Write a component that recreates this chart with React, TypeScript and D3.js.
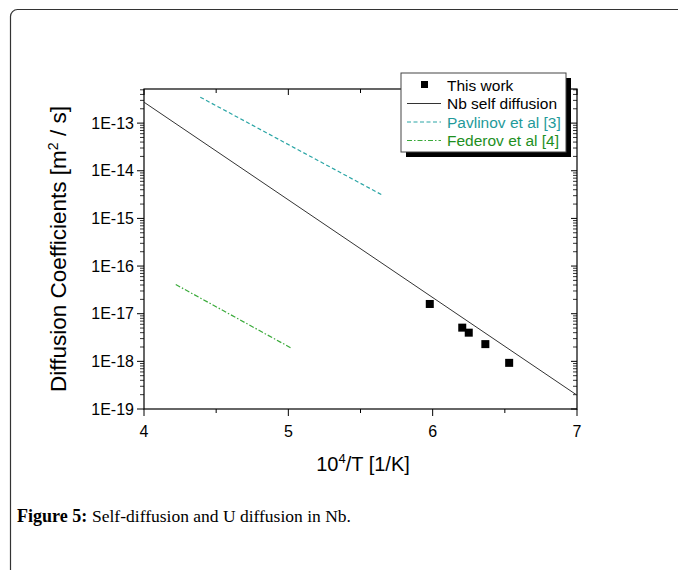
import React from 'react';
import * as d3 from 'd3';

// Nb self diffusion, end points of the Arrhenius line
const nbX = [4, 7];
const nbY = [2.75e-13, 1.95e-19];

// Pavlinov et al [3]
const pavX = [4.39, 5.65];
const pavY = [3.5e-13, 3.1e-15];

// Federov et al [4]
const fedX = [4.22, 5.02];
const fedY = [4.1e-17, 1.9e-18];

// This work
const workX = [5.98, 6.205, 6.25, 6.365, 6.53];
const workY = [1.6e-17, 5.1e-18, 4.0e-18, 2.3e-18, 9.3e-19];

const xMajor = [4, 5, 6, 7];
const xMinor = [4.5, 5.5, 6.5];
const yDecades = [-19, -18, -17, -16, -15, -14, -13];

const legendItems = [
  { label: 'This work', color: '#000', kind: 'square' },
  { label: 'Nb self diffusion', color: '#000', kind: 'solid' },
  { label: 'Pavlinov et al [3]', color: '#1f9a9a', kind: 'dash' },
  { label: 'Federov et al [4]', color: '#1e8f1e', kind: 'dashdot' },
];

const W = 678;
const H = 570;
const plot = { left: 144, right: 577, top: 89, bottom: 409 };
const sans = 'Liberation Sans, Arial, sans-serif';
const serif = 'Liberation Serif, serif';

const App: React.FC = () => {
  const x = d3.scaleLinear().domain([4, 7]).range([plot.left, plot.right]);
  const y = d3.scaleLog().domain([1e-19, 5.2e-13]).range([plot.bottom, plot.top]);

  const line = d3.line<[number, number]>().x(d => x(d[0])).y(d => y(d[1]));
  const pairs = (xs: number[], ys: number[]) => xs.map((v, i) => [v, ys[i]] as [number, number]);

  const yMinor: number[] = [];
  yDecades.forEach(k => {
    for (let m = 2; m <= 9; m++) {
      const v = m * Math.pow(10, k);
      if (v <= y.domain()[1]) yMinor.push(v);
    }
  });

  const legX = 401, legY = 73, legW = 165, legH = 79;

  return (
    <svg width={W} height={H} style={{ position: 'absolute', left: 0, top: 0 }}>
      <rect x={0} y={0} width={W} height={H} fill="#fff" />
      <rect x={10.5} y={9.5} width={W + 20} height={H + 20} rx={7} fill="none" stroke="#333" strokeWidth={1.2} />

      {/* axes frame */}
      <rect x={plot.left} y={plot.top} width={plot.right - plot.left} height={plot.bottom - plot.top}
        fill="none" stroke="#000" strokeWidth={1.2} />

      {/* x ticks: bottom outward, top inward */}
      {xMajor.map(v => (
        <g key={'xm' + v}>
          <line x1={x(v)} x2={x(v)} y1={plot.bottom} y2={plot.bottom + 7} stroke="#000" />
          <line x1={x(v)} x2={x(v)} y1={plot.top} y2={plot.top + 6} stroke="#000" />
          <text x={x(v)} y={plot.bottom + 28} textAnchor="middle" fontFamily={sans} fontSize={16}>{v}</text>
        </g>
      ))}
      {xMinor.map(v => (
        <g key={'xn' + v}>
          <line x1={x(v)} x2={x(v)} y1={plot.bottom} y2={plot.bottom + 4} stroke="#000" />
          <line x1={x(v)} x2={x(v)} y1={plot.top} y2={plot.top + 4} stroke="#000" />
        </g>
      ))}

      {/* y ticks: left outward, right inward */}
      {yDecades.map(k => {
        const v = Math.pow(10, k);
        return (
          <g key={'ym' + k}>
            <line x1={plot.left - 7} x2={plot.left} y1={y(v)} y2={y(v)} stroke="#000" />
            <line x1={plot.right - 6} x2={plot.right} y1={y(v)} y2={y(v)} stroke="#000" />
            <text x={plot.left - 10} y={y(v) + 5.5} textAnchor="end" fontFamily={sans} fontSize={16}>{`1E${k}`}</text>
          </g>
        );
      })}
      {yMinor.map((v, i) => (
        <g key={'yn' + i}>
          <line x1={plot.left - 4} x2={plot.left} y1={y(v)} y2={y(v)} stroke="#000" strokeWidth={0.8} />
          <line x1={plot.right - 4} x2={plot.right} y1={y(v)} y2={y(v)} stroke="#000" strokeWidth={0.8} />
        </g>
      ))}

      {/* axis titles */}
      <text x={363} y={471} textAnchor="middle" fontFamily={sans} fontSize={20}>
        10<tspan dy={-8} fontSize={13}>4</tspan><tspan dy={8}>/T [1/K]</tspan>
      </text>
      <text transform={`translate(66,${(plot.top + plot.bottom) / 2}) rotate(-90)`} textAnchor="middle"
        fontFamily={sans} fontSize={22.5}>
        Diffusion Coefficients [m<tspan dy={-8} fontSize={14}>2</tspan><tspan dy={8}> / s]</tspan>
      </text>

      {/* series */}
      <path d={line(pairs(nbX, nbY)) || ''} fill="none" stroke="#333" strokeWidth={1} />
      <path d={line(pairs(pavX, pavY)) || ''} fill="none" stroke="#2aa5a5" strokeWidth={1.2} strokeDasharray="4,2.5" />
      <path d={line(pairs(fedX, fedY)) || ''} fill="none" stroke="#3aaa3a" strokeWidth={1.2} strokeDasharray="5,2,1.5,2" />
      {workX.map((v, i) => (
        <rect key={'p' + i} x={x(v) - 4} y={y(workY[i]) - 4} width={8} height={8} fill="#000" />
      ))}

      {/* legend */}
      <rect x={legX + 5} y={legY + 5} width={legW} height={legH} fill="#000" />
      <rect x={legX} y={legY} width={legW} height={legH} fill="#fff" stroke="#444" strokeWidth={1} />
      {legendItems.map((it, i) => {
        const cy = legY + 12 + i * 18.5;
        return (
          <g key={it.label}>
            {it.kind === 'square' && <rect x={legX + 20} y={cy - 4} width={7} height={7} fill="#000" />}
            {it.kind !== 'square' && (
              <line x1={legX + 6} x2={legX + 40} y1={cy} y2={cy}
                stroke={it.kind === 'solid' ? '#333' : it.kind === 'dash' ? '#2aa5a5' : '#3aaa3a'}
                strokeWidth={1}
                strokeDasharray={it.kind === 'dash' ? '4,2.5' : it.kind === 'dashdot' ? '5,2,1.5,2' : undefined} />
            )}
            <text x={legX + 46} y={cy + 5.5} fontFamily={sans} fontSize={15.5} fill={it.color}>{it.label}</text>
          </g>
        );
      })}

      {/* caption */}
      <text x={17} y={522} fontFamily={serif} fontSize={18} fontWeight="bold">Figure 5:</text>
      <text x={92} y={522} fontFamily={serif} fontSize={17.5}>Self-diffusion and U diffusion in Nb.</text>
    </svg>
  );
};

export default App;
